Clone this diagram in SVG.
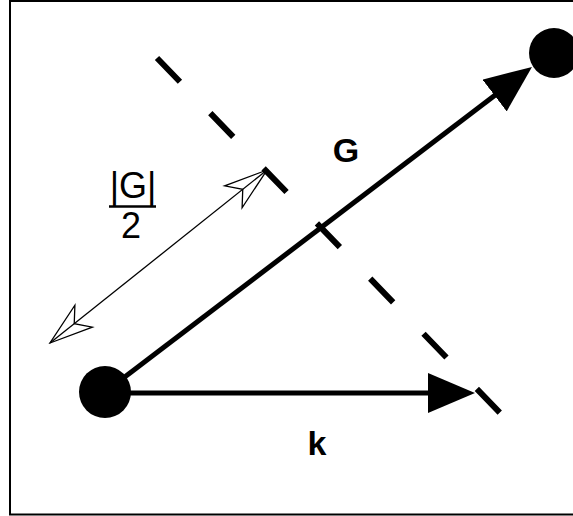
<svg xmlns="http://www.w3.org/2000/svg" width="573" height="516" viewBox="0 0 573 516">
<style>
.frame{fill:none;stroke:#000;stroke-width:2}
.node{fill:#000}
.vec{stroke:#000;stroke-width:5;fill:none}
.plane{stroke:#000;stroke-width:6;stroke-dasharray:33 43.7;fill:none}
.dim{stroke:#000;stroke-width:1.3;fill:none}
.lbl{font-family:"Liberation Sans",Arial,sans-serif;fill:#000}
.bold{font-weight:bold;font-size:34px}
.thin{font-weight:normal;font-size:36px}
</style>
<defs>
<marker id="head" viewBox="0 0 47 40" refX="17" refY="20" markerWidth="47" markerHeight="40" markerUnits="userSpaceOnUse" orient="auto">
<path d="M0,0 L47,20 L0,40 Z" fill="#000"/>
</marker>
<marker id="open" viewBox="-46 -17 48 34" refX="0" refY="0" markerWidth="48" markerHeight="34" markerUnits="userSpaceOnUse" orient="auto-start-reverse">
<path d="M0,0 L-43,-14 L-31,0 L-43,14 Z" fill="none" stroke="#000" stroke-width="1.3"/>
</marker>
</defs>
<rect class="frame" x="10" y="1" width="600" height="513.5"/>
<g id="connectors">
<line id="plane" class="plane" x1="157" y1="58" x2="504" y2="417"/>
<line id="vecG" class="vec" x1="105" y1="392" x2="508.1" y2="85.2" marker-end="url(#head)"/>
<line id="veck" class="vec" x1="105" y1="393" x2="445" y2="393" marker-end="url(#head)"/>
<line id="halfG" class="dim" x1="50" y1="343" x2="267" y2="170" marker-start="url(#open)" marker-end="url(#open)"/>
</g>
<g id="origin"><circle class="node" cx="105" cy="392" r="26"/></g>
<g id="Gpoint"><circle class="node" cx="554" cy="53" r="25"/></g>
<g id="labelG"><text class="lbl bold" x="346" y="162" text-anchor="middle">G</text></g>
<g id="labelk"><text class="lbl bold" x="317" y="455" text-anchor="middle">k</text></g>
<g id="labelHalf">
<text class="lbl thin" x="133" y="198" text-anchor="middle">|G|</text>
<line x1="109" y1="206.5" x2="156" y2="206.5" stroke="#000" stroke-width="2.5"/>
<text class="lbl thin" x="131" y="238" text-anchor="middle">2</text>
</g>
</svg>
